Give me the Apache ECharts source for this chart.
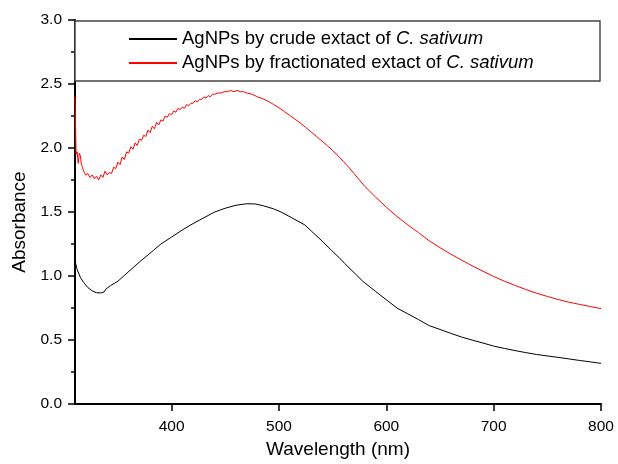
<!DOCTYPE html>
<html>
  <head>
    <meta charset="utf-8">
    <title>AgNPs absorbance</title>
    <style>
    html,body,#chart {
      margin: 0;
      padding: 0;
      width: 618px;
      height: 464px;
      background: #fff;
    }
    </style>
  </head>
  <body>
    <div id="chart"></div>

    <script src="https://cdn.jsdelivr.net/npm/echarts@6/dist/echarts.min.js"></script>

    <script type="text/javascript">
    // wavelengths (nm) and absorbance
    var crudeNm = [310, 312, 315, 318, 322, 326, 330, 334, 337, 339, 340, 343, 350, 356, 362, 370, 378, 383, 390, 400,
      410, 420, 430, 440, 450, 460, 470, 478, 485, 495, 502, 512, 524, 530, 540, 549, 556, 561, 570, 578,
      590, 600, 610, 620, 630, 640, 650, 660, 670, 680, 690, 700, 710, 720, 730, 740, 750, 760, 770, 780, 790, 800]
    var crudeAbs = [1.12, 1.05, 0.99, 0.95, 0.91, 0.885, 0.87, 0.868, 0.875, 0.90, 0.915, 0.925, 0.96, 1.005, 1.05, 1.11, 1.165, 1.20, 1.25, 1.305,
      1.36, 1.41, 1.455, 1.50, 1.53, 1.553, 1.565, 1.563, 1.55, 1.525, 1.50, 1.455, 1.40, 1.353, 1.275, 1.20, 1.145, 1.10, 1.027, 0.96,
      0.88, 0.815, 0.75, 0.705, 0.66, 0.613, 0.583, 0.553, 0.524, 0.50, 0.477, 0.453, 0.435, 0.418, 0.402, 0.388, 0.376, 0.365, 0.353, 0.341, 0.33, 0.318]

    var fracNm = [310, 311, 312, 313, 314, 315, 316, 317, 318, 320, 322, 324, 326, 328, 330, 332, 334, 336, 338, 340,
      342, 344, 346, 348, 350, 352, 354, 356, 358, 360, 362, 364, 366, 368, 370, 372, 374, 376, 378, 380,
      382, 384, 386, 388, 390, 392, 394, 396, 398, 400, 402, 404, 406, 408, 410, 412, 414, 416, 418, 420,
      422, 424, 426, 428, 430, 432, 434, 436, 438, 440, 443, 446, 449, 452, 455, 458, 461, 464, 467, 470,
      475, 480, 485, 490, 495, 500, 505, 510, 515, 520, 525, 530, 535, 540, 545, 550, 555, 560, 565, 570,
      575, 580, 590, 600, 610, 620, 630, 640, 650, 660, 670, 680, 690, 700, 710, 720, 730, 740, 750, 760,
      770, 780, 790, 800]
    var fracAbs = [2.40, 1.95, 1.97, 1.88, 1.96, 1.94, 1.87, 1.85, 1.82, 1.79, 1.80, 1.77, 1.79, 1.76, 1.78, 1.75, 1.79, 1.77, 1.82, 1.79,
      1.81, 1.80, 1.85, 1.84, 1.89, 1.87, 1.93, 1.91, 1.97, 1.96, 2.01, 1.99, 2.04, 2.02, 2.07, 2.06, 2.10, 2.09, 2.14, 2.12,
      2.17, 2.15, 2.20, 2.18, 2.22, 2.21, 2.25, 2.24, 2.27, 2.26, 2.29, 2.28, 2.31, 2.30, 2.32, 2.31, 2.34, 2.33, 2.35, 2.35,
      2.37, 2.36, 2.38, 2.38, 2.40, 2.39, 2.41, 2.40, 2.42, 2.42, 2.43, 2.43, 2.44, 2.44, 2.45, 2.44, 2.45, 2.44, 2.44, 2.43,
      2.42, 2.40, 2.385, 2.365, 2.34, 2.315, 2.285, 2.255, 2.225, 2.195, 2.16, 2.125, 2.09, 2.055, 2.02, 1.98, 1.94, 1.895, 1.85, 1.80,
      1.75, 1.70, 1.617, 1.538, 1.465, 1.40, 1.34, 1.275, 1.222, 1.172, 1.125, 1.08, 1.038, 0.997, 0.96, 0.927, 0.895, 0.866, 0.841, 0.817,
      0.796, 0.779, 0.762, 0.746]

    var xTicks = [400, 500, 600, 700, 800]
    var seriesNames = ['AgNPs by crude extact of ', 'AgNPs by fractionated extact of ']
    var speciesName = 'C. sativum'

    function pairs(xs, ys) {
      var out = []
      for (var i = 0; i < xs.length; i++) out.push([xs[i], ys[i]])
      return out
    }

    var font = '"Liberation Sans", Arial, Helvetica, sans-serif'
    var chart = echarts.init(document.getElementById('chart'))
    chart.setOption({
      animation: false,
      backgroundColor: '#fff',
      grid: { left: 75, right: 17, top: 20, bottom: 57 },
      graphic: [{
        type: 'rect',
        z: 1,
        shape: { x: 75, y: 21, width: 525, height: 60 },
        style: { fill: '#fff', stroke: '#444', lineWidth: 1.4 }
      }],
      legend: {
        orient: 'vertical',
        left: 128,
        top: 29,
        z: 5,
        itemWidth: 48,
        itemHeight: 14,
        itemGap: 4,
        padding: 0,
        itemStyle: { opacity: 0 },
        data: [seriesNames[0], seriesNames[1]],
        formatter: function (name) {
          return '{n|' + name + '}{i|' + speciesName + '}'
        },
        textStyle: {
          color: '#000',
          fontFamily: font,
          fontSize: 18.5,
          lineHeight: 20,
          rich: {
            n: { fontFamily: font, fontSize: 18.5, color: '#000' },
            i: { fontFamily: font, fontSize: 18.5, fontStyle: 'italic', color: '#000' }
          }
        }
      },
      xAxis: {
        type: 'value',
        min: 310,
        max: 800,
        name: 'Wavelength (nm)',
        nameLocation: 'middle',
        nameGap: 35,
        nameTextStyle: { fontFamily: font, fontSize: 19, color: '#000' },
        axisLine: { lineStyle: { color: '#000', width: 2 } },
        axisTick: { customValues: xTicks, length: 7, lineStyle: { color: '#000', width: 1.5 } },
        axisLabel: { customValues: xTicks, margin: 15, fontFamily: font, fontSize: 15.5, color: '#000' },
        splitLine: { show: false }
      },
      yAxis: {
        type: 'value',
        min: 0,
        max: 3,
        interval: 0.5,
        name: 'Absorbance',
        nameLocation: 'middle',
        nameGap: 46,
        nameTextStyle: { fontFamily: font, fontSize: 19, color: '#000', padding: [0, 20, 0, 0] },
        axisLine: { show: true, lineStyle: { color: '#000', width: 2 } },
        axisTick: { show: true, length: 7, lineStyle: { color: '#000', width: 1.5 } },
        minorTick: { show: true, splitNumber: 2, length: 4, lineStyle: { color: '#000', width: 1.5 } },
        axisLabel: {
          margin: 13,
          fontFamily: font,
          fontSize: 15.5,
          color: '#000',
          formatter: function (v) { return v.toFixed(1) }
        },
        splitLine: { show: false }
      },
      series: [{
        name: seriesNames[0],
        type: 'line',
        symbol: 'none',
        z: 3,
        lineStyle: { color: '#000', width: 1 },
        itemStyle: { color: '#000' },
        data: pairs(crudeNm, crudeAbs)
      }, {
        name: seriesNames[1],
        type: 'line',
        symbol: 'none',
        z: 3,
        lineStyle: { color: '#ff0000', width: 1 },
        itemStyle: { color: '#ff0000' },
        data: pairs(fracNm, fracAbs)
      }]
    })
    </script>
  </body>
</html>
